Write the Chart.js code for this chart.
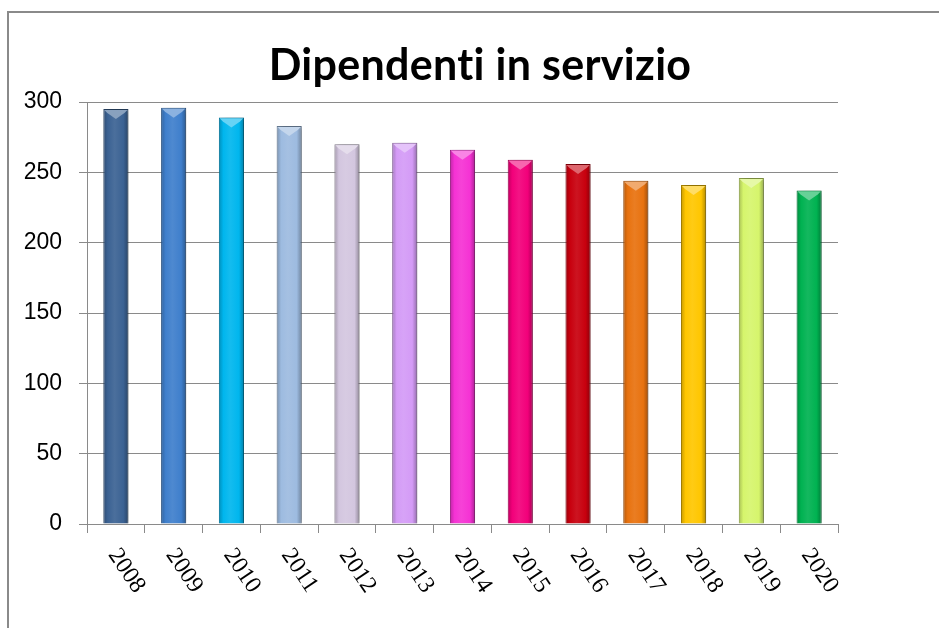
<!DOCTYPE html>
<html>
<head>
<meta charset="utf-8">
<title>Dipendenti in servizio</title>
<script src="https://cdn.jsdelivr.net/npm/chart.js@4.4.1/dist/chart.umd.min.js"></script>
<style>
  html, body { margin: 0; padding: 0; background: #fff; overflow: hidden; }
  #wrap { position: relative; width: 939px; height: 628px; }
  #frame { position: absolute; left: 7px; top: 11px; width: 1000px; height: 1000px; border: 2px solid #8a8a8a; box-sizing: border-box; }
  #chart { position: absolute; left: 0; top: 0; }
</style>
</head>
<body>
<div id="wrap">
  <div id="frame"></div>
  <canvas id="chart" width="939" height="628"></canvas>
</div>
<script>
'use strict';

const chartTitle = 'Dipendenti in servizio';
const years = ['2008', '2009', '2010', '2011', '2012', '2013', '2014', '2015', '2016', '2017', '2018', '2019', '2020'];
const employees = [295, 296, 289, 283, 270, 271, 266, 259, 256, 244, 241, 246, 237];
const yTicks = [0, 50, 100, 150, 200, 250, 300];
const barColors = ['#3b6293', '#3f7fcc', '#00b6ee', '#9dbbe0', '#d3c6df', '#d49bf6', '#f532d4', '#f2007a', '#c8000e', '#e8720f', '#ffc600', '#d6f56c', '#00b251'];

const BAR_FRACTION = 0.435;

// mix a hex colour toward white (amt > 0) or black (amt < 0)
function shade(hex, amt) {
  const n = parseInt(hex.slice(1), 16);
  const target = amt < 0 ? 0 : 255;
  const p = Math.abs(amt);
  const mix = c => Math.round(c + (target - c) * p);
  return `rgb(${mix(n >> 16)}, ${mix((n >> 8) & 255)}, ${mix(n & 255)})`;
}

function barFill(context) {
  const chart = context.chart;
  const base = barColors[context.dataIndex];
  const xScale = chart.scales.x;
  if (!chart.chartArea || !xScale) {
    return base;
  }
  const cx = xScale.getPixelForValue(context.dataIndex);
  const half = (xScale.width / years.length) * BAR_FRACTION / 2;
  const grad = chart.ctx.createLinearGradient(cx - half, 0, cx + half, 0);
  grad.addColorStop(0, shade(base, -0.22));
  grad.addColorStop(0.18, base);
  grad.addColorStop(0.45, shade(base, 0.08));
  grad.addColorStop(0.8, base);
  grad.addColorStop(1, shade(base, -0.3));
  return grad;
}

const barShadow = {
  id: 'barShadow',
  beforeDatasetsDraw(chart) {
    const ctx = chart.ctx;
    ctx.save();
    ctx.shadowColor = 'rgba(0, 0, 0, 0.3)';
    ctx.shadowBlur = 6;
    ctx.shadowOffsetX = 3;
    ctx.shadowOffsetY = 0;
  },
  afterDatasetsDraw(chart) {
    const ctx = chart.ctx;
    ctx.restore();
    // glossy bevel on top of every bar
    const meta = chart.getDatasetMeta(0);
    meta.data.forEach((bar, i) => {
      const base = barColors[i];
      const left = bar.x - bar.width / 2 + 1;
      const right = bar.x + bar.width / 2 - 1;
      ctx.save();
      ctx.fillStyle = shade(base, 0.4);
      ctx.beginPath();
      ctx.moveTo(left, bar.y + 1);
      ctx.lineTo(right, bar.y + 1);
      ctx.lineTo(right - 3, bar.y + 4);
      ctx.lineTo(bar.x, bar.y + 10);
      ctx.lineTo(left + 3, bar.y + 4);
      ctx.closePath();
      ctx.fill();
      ctx.restore();
    });
  }
};

const textLayer = {
  id: 'textLayer',
  afterDraw(chart) {
    const { ctx, scales: { x } } = chart;
    ctx.save();
    ctx.fillStyle = '#000';
    ctx.font = '24px "Liberation Serif"';
    ctx.textAlign = 'left';
    ctx.textBaseline = 'middle';
    years.forEach((year, i) => {
      ctx.save();
      ctx.translate(x.getPixelForTick(i) - 3, x.top + 27);
      ctx.rotate(56 * Math.PI / 180);
      ctx.fillText(year, 0, 0);
      ctx.restore();
    });
    ctx.font = 'bold 43px Lato';
    ctx.letterSpacing = '0.3px';
    ctx.textAlign = 'center';
    ctx.textBaseline = 'alphabetic';
    ctx.fillText(chartTitle, 480, 80);
    ctx.restore();
  }
};

new Chart(document.getElementById('chart').getContext('2d'), {
  type: 'bar',
  data: {
    labels: years,
    datasets: [
      {
        label: chartTitle,
        data: employees,
        backgroundColor: barFill,
        borderColor: barColors.map(c => shade(c, -0.35)),
        borderWidth: 1,
        barPercentage: BAR_FRACTION,
        categoryPercentage: 1
      }
    ]
  },
  options: {
    responsive: false,
    animation: false,
    layout: {
      padding: { top: 102, right: 101, bottom: 0, left: 0 }
    },
    plugins: {
      legend: { display: false },
      title: { display: false },
      tooltip: { enabled: false }
    },
    scales: {
      x: {
        offset: true,
        grid: {
          offset: true,
          drawOnChartArea: false,
          color: '#8a8a8a',
          tickLength: 9
        },
        border: { color: '#8a8a8a', width: 1 },
        ticks: { display: false },
        afterFit(scale) {
          scale.height = 104;
        }
      },
      y: {
        min: 0,
        max: 300,
        afterBuildTicks(scale) {
          scale.ticks = yTicks.map(value => ({ value }));
        },
        grid: {
          color: '#8a8a8a',
          tickLength: 8
        },
        border: { color: '#8a8a8a', width: 1 },
        ticks: {
          color: '#000',
          padding: 17,
          font: { family: '"Liberation Sans"', size: 23 }
        },
        afterFit(scale) {
          scale.width = 87;
          scale.paddingTop = 0;
          scale.paddingBottom = 0;
        }
      }
    }
  },
  plugins: [barShadow, textLayer]
});
</script>
</body>
</html>
